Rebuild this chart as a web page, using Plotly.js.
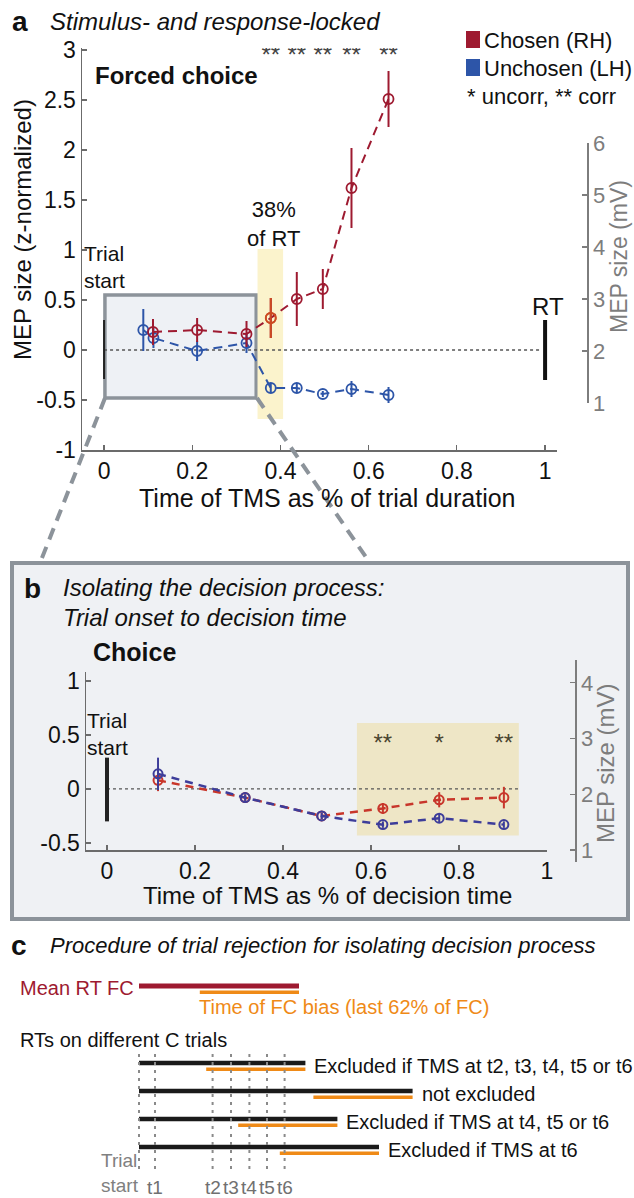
<!DOCTYPE html>
<html><head><meta charset="utf-8">
<script src="https://cdn.plot.ly/plotly-3.0.1.min.js"></script>
<style>html,body{margin:0;padding:0;background:#fff;}</style>
</head><body><div id="chart" style="width:634px;height:1198px;"></div>
<script>
// ---------- Panel a: forced choice (stimulus- and response-locked) ----------
const aX_RH = [0.111, 0.211, 0.323, 0.378, 0.437, 0.496, 0.561, 0.645];
const aY_RH = [0.18, 0.20, 0.16, 0.32, 0.51, 0.61, 1.62, 2.51];
const aE_RH = [0.13, 0.12, 0.13, 0.20, 0.27, 0.20, 0.40, 0.28];
const aX_LH = [0.089, 0.112, 0.211, 0.323, 0.378, 0.437, 0.496, 0.561, 0.645];
const aY_LH = [0.20, 0.12, -0.01, 0.07, -0.38, -0.38, -0.44, -0.39, -0.45];
const aE_LH = [0.21, 0.10, 0.10, 0.10, 0.05, 0.05, 0.03, 0.08, 0.08];
const aSig = ['', '', '', '**', '**', '**', '**', '**'];
const aBiasWindowX = [0.348, 0.406];
const aBiasWindowY = [-0.69, 1.01];
const aZoomBoxX = [0.002, 0.345];
const aZoomBoxY = [-0.48, 0.55];
const aTickX = [0, 0.2, 0.4, 0.6, 0.8, 1];
const aTickXText = ['0', '0.2', '0.4', '0.6', '0.8', '1'];
const aTickY = [-1, -0.5, 0, 0.5, 1, 1.5, 2, 2.5, 3];
const aTickYText = ['-1', '-0.5', '0', '0.5', '1', '1.5', '2', '2.5', '3'];
const aTickMV = [1, 2, 3, 4, 5, 6];

// ---------- Panel b: choice (trial onset to decision time) ----------
const bX = [0.116, 0.314, 0.488, 0.627, 0.755, 0.902];
const bY_RH = [0.08, -0.08, -0.25, -0.18, -0.10, -0.08];
const bE_RH = [0.10, 0.03, 0.03, 0.05, 0.07, 0.10];
const bY_LH = [0.14, -0.08, -0.25, -0.33, -0.27, -0.33];
const bE_LH = [0.15, 0.03, 0.03, 0.03, 0.04, 0.03];
const bSig = ['', '', '', '**', '*', '**'];
const bBiasWindowX = [0.568, 0.936];
const bBiasWindowY = [-0.43, 0.61];
const bTickX = [0, 0.2, 0.4, 0.6, 0.8, 1];
const bTickXText = ['0', '0.2', '0.4', '0.6', '0.8', '1'];
const bTickY = [-0.5, 0, 0.5, 1];
const bTickYText = ['-0.5', '0', '0.5', '1'];
const bTickMV = [1, 2, 3, 4];

// ---------- Panel c: trial rejection procedure ----------
const cMeanRT = 1.0;
const cBiasFrac = 0.62;
const cTrialRT = [1.04, 1.71, 1.24, 1.50];
const cTrialLabel = ['Excluded if TMS at t2, t3, t4, t5 or t6', 'not excluded',
                     'Excluded if TMS at t4, t5 or t6', 'Excluded if TMS at t6'];
const cTMSTimes = [0.10, 0.46, 0.575, 0.69, 0.80, 0.91];
const cTMSLabels = ['t1', 't2', 't3', 't4', 't5', 't6'];

// ---------- styling ----------
const W = 634, H = 1198;
const FF = 'Liberation Sans, Arial, Helvetica, sans-serif';
const RED_A = '#9e1a30', BLUE_A = '#2d55a8', ORANGE_PT = '#cc4a22';
const RED_B = '#c8362b', BLUE_B = '#3d3d9a';
const ORANGE = '#ef8a17', GRAYBOX = '#8c939a';
const AXC = '#6b6b6b', MVC = '#7d7d7d';
const px = v => v / W, py = v => 1 - v / H;

const traces = [];
// panel a series
traces.push({x: aX_LH, y: aY_LH, xaxis: 'x', yaxis: 'y', type: 'scatter', mode: 'lines+markers',
  line: {color: BLUE_A, width: 2, dash: '9px,6px'},
  marker: {symbol: 'circle-open', size: 10, color: BLUE_A, line: {width: 1.8, color: BLUE_A}},
  error_y: {type: 'data', array: aE_LH, width: 0, thickness: 2, color: BLUE_A},
  hoverinfo: 'skip', showlegend: false});
const inBias = aX_RH.map(v => v >= aBiasWindowX[0] && v <= aBiasWindowX[1]);
traces.push({x: aX_RH, y: aY_RH, xaxis: 'x', yaxis: 'y', type: 'scatter', mode: 'lines+markers',
  line: {color: RED_A, width: 2, dash: '9px,6px'},
  marker: {symbol: 'circle-open', size: 10, color: inBias.map(b => b ? ORANGE_PT : RED_A),
           line: {width: 1.8, color: inBias.map(b => b ? ORANGE_PT : RED_A)}},
  error_y: {type: 'data', array: aE_RH, width: 0, thickness: 2, color: RED_A},
  hoverinfo: 'skip', showlegend: false});
// highlighted (bias-window) point drawn again in orange
traces.push({x: aX_RH.filter((v, i) => inBias[i]), y: aY_RH.filter((v, i) => inBias[i]),
  xaxis: 'x', yaxis: 'y', type: 'scatter', mode: 'markers',
  marker: {symbol: 'circle-open', size: 10, color: ORANGE_PT, line: {width: 1.8, color: ORANGE_PT}},
  error_y: {type: 'data', array: aE_RH.filter((v, i) => inBias[i]), width: 0, thickness: 2, color: ORANGE_PT},
  hoverinfo: 'skip', showlegend: false});
// significance stars a
traces.push({x: aX_RH, y: aX_RH.map(() => 2.93), text: aSig, xaxis: 'x', yaxis: 'y', type: 'scatter',
  mode: 'text', textposition: 'middle center', textfont: {family: FF, size: 24, color: '#444'},
  hoverinfo: 'skip', showlegend: false});
// invisible anchor for the mV axis of a
traces.push({x: [0.5], y: [3], xaxis: 'x', yaxis: 'y3', type: 'scatter', mode: 'markers',
  marker: {opacity: 0}, hoverinfo: 'skip', showlegend: false});

// panel b series
traces.push({x: bX, y: bY_RH, xaxis: 'x2', yaxis: 'y2', type: 'scatter', mode: 'lines+markers',
  line: {color: RED_B, width: 2.5, dash: '8px,6px'},
  marker: {symbol: 'circle-open', size: 9, color: RED_B, line: {width: 2, color: RED_B}},
  error_y: {type: 'data', array: bE_RH, width: 0, thickness: 2, color: RED_B},
  hoverinfo: 'skip', showlegend: false});
traces.push({x: bX, y: bY_LH, xaxis: 'x2', yaxis: 'y2', type: 'scatter', mode: 'lines+markers',
  line: {color: BLUE_B, width: 2.5, dash: '8px,6px'},
  marker: {symbol: 'circle-open', size: 9, color: BLUE_B, line: {width: 2, color: BLUE_B}},
  error_y: {type: 'data', array: bE_LH, width: 0, thickness: 2, color: BLUE_B},
  hoverinfo: 'skip', showlegend: false});
traces.push({x: bX, y: bX.map(() => 0.41), text: bSig, xaxis: 'x2', yaxis: 'y2', type: 'scatter',
  mode: 'text', textposition: 'middle center', textfont: {family: FF, size: 24, color: '#4a4530'},
  hoverinfo: 'skip', showlegend: false});
traces.push({x: [0.5], y: [2], xaxis: 'x2', yaxis: 'y4', type: 'scatter', mode: 'markers',
  marker: {opacity: 0}, hoverinfo: 'skip', showlegend: false});

// panel c bars (x in units of mean forced-choice RT, y = row)
const cRowMean = -1.75, cOff = 0.22;
traces.push({x: [0, cMeanRT], y: [cRowMean, cRowMean], xaxis: 'x3', yaxis: 'y5', mode: 'lines',
  line: {color: RED_A, width: 5}, hoverinfo: 'skip', showlegend: false});
traces.push({x: [cMeanRT - cBiasFrac * cMeanRT, cMeanRT], y: [cRowMean + cOff, cRowMean + cOff],
  xaxis: 'x3', yaxis: 'y5', mode: 'lines', line: {color: ORANGE, width: 3.5}, hoverinfo: 'skip', showlegend: false});
cTrialRT.forEach((rt, i) => {
  const r = i + 1;
  traces.push({x: [0, rt], y: [r, r], xaxis: 'x3', yaxis: 'y5', mode: 'lines',
    line: {color: '#1a1a1a', width: 4.5}, hoverinfo: 'skip', showlegend: false});
  traces.push({x: [rt - cBiasFrac * cMeanRT, rt], y: [r + cOff, r + cOff], xaxis: 'x3', yaxis: 'y5', mode: 'lines',
    line: {color: ORANGE, width: 3.5}, hoverinfo: 'skip', showlegend: false});
});
[0].concat(cTMSTimes).forEach(t => {
  traces.push({x: [t, t], y: [0.68, 4.89], xaxis: 'x3', yaxis: 'y5', mode: 'lines',
    line: {color: '#8a8a8a', width: 2, dash: '3px,5px'}, hoverinfo: 'skip', showlegend: false});
});

// ---------- annotations ----------
const ann = [];
function T(text, x, y, o) {
  o = o || {};
  ann.push({text: text, x: px(x), y: py(y), xref: 'paper', yref: 'paper', showarrow: false,
    xanchor: o.xa || 'left', yanchor: o.ya || 'middle', textangle: o.rot || 0, align: o.al || 'left',
    font: {family: FF, size: o.s || 22, color: o.c || '#111', weight: o.b ? 'bold' : 'normal',
           style: o.i ? 'italic' : 'normal'}});
}
// panel a texts
T('a', 10, 21, {s: 28, b: true});
T('Stimulus- and response-locked', 48, 21, {s: 24, i: true});
T('Forced choice', 93, 76, {s: 24, b: true});
T('Chosen (RH)', 482, 41, {s: 22});
T('Unchosen (LH)', 482, 68, {s: 22});
T('* uncorr, ** corr', 465, 96, {s: 22});
T('38%<br>of RT', 273, 224, {s: 22, xa: 'center', al: 'center'});
T('Trial<br>start', 82, 267, {s: 21});
T('RT', 548, 307, {s: 24, xa: 'center'});
T('MEP size (z-normalized)', 22, 230, {s: 24, xa: 'center', rot: -90});
T('MEP size (mV)', 619, 257, {s: 23, xa: 'center', rot: -90, c: MVC});
T('Time of TMS as % of trial duration', 327, 498, {s: 25, xa: 'center'});
// panel b texts
T('b', 22, 588, {s: 28, b: true});
T('Isolating the decision process:', 61, 587, {s: 24, i: true});
T('Trial onset to decision time', 61, 617, {s: 24, i: true});
T('Choice', 91, 652, {s: 25, b: true});
T('Trial<br>start', 85, 734, {s: 21});
T('MEP size (mV)', 605, 763, {s: 24, xa: 'center', rot: -90, c: MVC});
T('Time of TMS as % of decision time', 327, 895, {s: 24, xa: 'center'});
// panel c texts
T('c', 9, 945, {s: 28, b: true});
T('Procedure of trial rejection for isolating decision process', 48, 945, {s: 22, i: true});
T('RTs on different C trials', 18, 1040, {s: 20});
T('Trial<br>start', 99, 1198, {s: 19, c: '#808080', ya: 'bottom'});
ann.push({text: 'Mean RT FC', x: 0, y: cRowMean, xref: 'x3', yref: 'y5', xanchor: 'right', yanchor: 'middle',
  xshift: -3, yshift: -2, showarrow: false, font: {family: FF, size: 20, color: RED_A}});
ann.push({text: 'Time of FC bias (last 62% of FC)', x: cMeanRT - cBiasFrac * cMeanRT, y: cRowMean + cOff,
  xref: 'x3', yref: 'y5', xanchor: 'left', yanchor: 'middle', xshift: -3, yshift: -15, showarrow: false,
  font: {family: FF, size: 20, color: ORANGE}});
cTrialRT.forEach((rt, i) => {
  ann.push({text: cTrialLabel[i], x: rt, y: i + 1 + cOff / 2, xref: 'x3', yref: 'y5', xanchor: 'left',
    yanchor: 'middle', xshift: 7, showarrow: false, font: {family: FF, size: 20, color: '#111'}});
});
cTMSTimes.forEach((t, i) => {
  ann.push({text: cTMSLabels[i], x: t, y: 5.45, xref: 'x3', yref: 'y5', xanchor: 'center',
    yanchor: 'middle', showarrow: false, font: {family: FF, size: 19, color: '#707070'}});
});

// ---------- shapes ----------
const shapes = [
  {type: 'rect', xref: 'paper', yref: 'paper', x0: px(12), x1: px(628), y0: py(919), y1: py(563),
   fillcolor: '#eff1f4', line: {color: GRAYBOX, width: 4}, layer: 'below'},
  {type: 'rect', xref: 'x', yref: 'y', x0: aZoomBoxX[0], x1: aZoomBoxX[1], y0: aZoomBoxY[0], y1: aZoomBoxY[1],
   fillcolor: '#eef1f5', line: {color: GRAYBOX, width: 3.5}, layer: 'below'},
  {type: 'rect', xref: 'x', yref: 'y', x0: aBiasWindowX[0], x1: aBiasWindowX[1], y0: aBiasWindowY[0], y1: aBiasWindowY[1],
   fillcolor: '#fbf3cc', line: {width: 0}, layer: 'below'},
  {type: 'rect', xref: 'x2', yref: 'y2', x0: bBiasWindowX[0], x1: bBiasWindowX[1], y0: bBiasWindowY[0], y1: bBiasWindowY[1],
   fillcolor: '#eee6c6', line: {width: 0}, layer: 'below'},
  {type: 'line', xref: 'x', yref: 'y', x0: 0, x1: 0.99, y0: 0, y1: 0, line: {color: '#555', width: 1.3, dash: 'dot'}, layer: 'below'},
  {type: 'line', xref: 'x2', yref: 'y2', x0: 0, x1: 0.94, y0: 0, y1: 0, line: {color: '#555', width: 1.3, dash: 'dot'}, layer: 'below'},
  {type: 'line', xref: 'x', yref: 'y', x0: 0, x1: 0, y0: -0.29, y1: 0.3, line: {color: '#222', width: 2}},
  {type: 'line', xref: 'x', yref: 'y', x0: 1, x1: 1, y0: -0.3, y1: 0.3, line: {color: '#111', width: 4}},
  {type: 'line', xref: 'x2', yref: 'y2', x0: 0, x1: 0, y0: -0.3, y1: 0.29, line: {color: '#222', width: 4}},
  {type: 'line', xref: 'paper', yref: 'paper', x0: px(105), y0: py(398), x1: px(40), y1: py(563),
   line: {color: GRAYBOX, width: 4, dash: '12px,8px'}},
  {type: 'line', xref: 'paper', yref: 'paper', x0: px(257), y0: py(398), x1: px(370), y1: py(563),
   line: {color: GRAYBOX, width: 4, dash: '12px,8px'}},
  {type: 'rect', xref: 'paper', yref: 'paper', x0: px(466), x1: px(480), y0: py(48), y1: py(31),
   fillcolor: RED_A, line: {width: 0}},
  {type: 'rect', xref: 'paper', yref: 'paper', x0: px(466), x1: px(480), y0: py(76), y1: py(59),
   fillcolor: BLUE_A, line: {width: 0}}
];

const tickFont = {family: FF, size: 23, color: '#111'};
const baseAx = {showgrid: false, zeroline: false, showline: true, linecolor: AXC, linewidth: 1.5,
  ticks: 'inside', ticklen: 5, tickcolor: AXC, tickwidth: 1.2, tickfont: tickFont, fixedrange: true};

const layout = {
  width: W, height: H, margin: {l: 0, r: 0, t: 0, b: 0},
  paper_bgcolor: '#ffffff', plot_bgcolor: 'rgba(0,0,0,0)', showlegend: false,
  font: {family: FF},
  xaxis: Object.assign({}, baseAx, {domain: [px(82), px(557)], range: [-0.05, 1.027], anchor: 'y',
    tickmode: 'array', tickvals: aTickX, ticktext: aTickXText}),
  yaxis: Object.assign({}, baseAx, {domain: [py(450), py(48)], range: [-1, 3.02], anchor: 'x',
    tickmode: 'array', tickvals: aTickY, ticktext: aTickYText}),
  yaxis3: Object.assign({}, baseAx, {domain: [py(403), py(143)], range: [1, 6], anchor: 'free',
    position: px(587), side: 'right', linecolor: MVC, tickcolor: MVC,
    tickfont: {family: FF, size: 22, color: MVC}, tickmode: 'array', tickvals: aTickMV}),
  xaxis2: Object.assign({}, baseAx, {domain: [px(86), px(547)], range: [-0.0477, 1.0], anchor: 'y2',
    tickmode: 'array', tickvals: bTickX, ticktext: bTickXText}),
  yaxis2: Object.assign({}, baseAx, {domain: [py(850), py(672)], range: [-0.565, 1.083], anchor: 'x2',
    tickmode: 'array', tickvals: bTickY, ticktext: bTickYText}),
  yaxis4: Object.assign({}, baseAx, {domain: [py(862), py(660)], range: [0.785, 4.41], anchor: 'free',
    position: px(575), side: 'right', linecolor: MVC, tickcolor: MVC,
    tickfont: {family: FF, size: 22, color: MVC}, tickmode: 'array', tickvals: bTickMV}),
  xaxis3: {domain: [0, 1], range: [-139 / 160, 495 / 160], anchor: 'y5', visible: false, fixedrange: true},
  yaxis5: {domain: [0, py(930)], range: [5.821, -3.75], anchor: 'x3', visible: false, fixedrange: true},
  shapes: shapes,
  annotations: ann
};

Plotly.newPlot('chart', traces, layout, {staticPlot: true, displayModeBar: false});
</script>
</body></html>
